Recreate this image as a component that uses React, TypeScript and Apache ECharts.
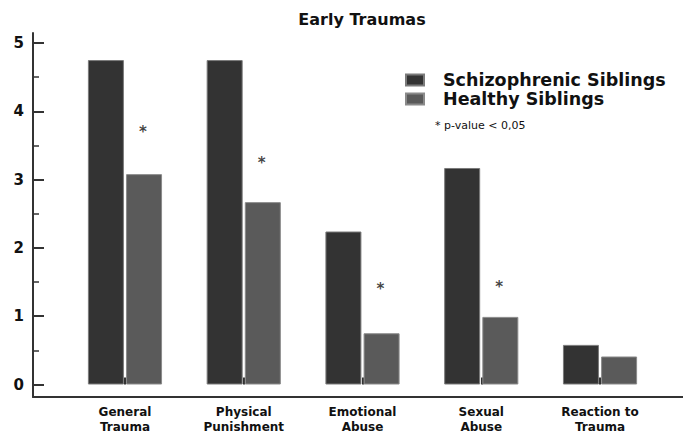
import React, { useEffect, useRef } from "react";
import * as echarts from "echarts";

const categories = ["General\nTrauma", "Physical\nPunishment", "Emotional\nAbuse", "Sexual\nAbuse", "Reaction to\nTrauma"];
const schizophrenicSiblings = [4.75, 4.75, 2.24, 3.17, 0.58];
const healthySiblings = [3.08, 2.67, 0.75, 0.99, 0.41];
const significance = [3.76, 3.3, 1.46, 1.48, null];
const yTicks = [0, 1, 2, 3, 4, 5];

const FONT = "DejaVu Sans";

export default function App() {
  const ref = useRef<HTMLDivElement>(null);
  useEffect(() => {
    if (!ref.current) return;
    const chart = echarts.init(ref.current, null, { renderer: "svg" });
    chart.setOption({
      animation: false,
      backgroundColor: "#ffffff",
      textStyle: { fontFamily: FONT },
      grid: [
        { left: 33, right: 0, top: 33, bottom: 37 },
        { left: 65.6, right: 23.6, top: 43, bottom: 47.5 },
      ],
      xAxis: [
        {
          gridIndex: 0,
          type: "value",
          min: 0,
          max: 1,
          axisLine: { show: true, lineStyle: { color: "#333", width: 2 } },
          axisTick: { show: false },
          axisLabel: { show: false },
          splitLine: { show: false },
        },
        {
          gridIndex: 1,
          type: "category",
          data: categories,
          offset: 10.5,
          axisLine: { show: false },
          axisTick: { show: true, inside: true, length: 7, alignWithLabel: true, lineStyle: { color: "#333", width: 2 } },
          axisLabel: {
            margin: 9,
            color: "#111",
            fontFamily: FONT,
            fontWeight: "bold",
            fontSize: 12,
            lineHeight: 15,
            interval: 0,
          },
        },
      ],
      yAxis: [
        {
          gridIndex: 0,
          type: "value",
          min: 0,
          max: 1,
          axisLine: { show: true, lineStyle: { color: "#333", width: 2 } },
          axisTick: { show: false },
          axisLabel: { show: false },
          splitLine: { show: false },
        },
        {
          gridIndex: 1,
          type: "value",
          min: yTicks[0],
          max: yTicks[yTicks.length - 1],
          interval: 1,
          offset: 32.6,
          axisLine: { show: false },
          axisTick: { show: true, inside: true, length: 11, lineStyle: { color: "#333", width: 2 } },
          minorTick: { show: true, splitNumber: 2, length: 6, lineStyle: { color: "#333", width: 1.5 } },
          axisLabel: { margin: 9, color: "#111", fontFamily: FONT, fontWeight: "bold", fontSize: 15 },
          splitLine: { show: false },
        },
      ],
      legend: {
        orient: "vertical",
        left: 405,
        top: 71,
        padding: 0,
        icon: "rect",
        itemWidth: 18,
        itemHeight: 11,
        itemGap: 1,
        textStyle: { fontFamily: FONT, fontWeight: "bold", fontSize: 17.5, lineHeight: 17, color: "#111", padding: [0, 0, 0, 14] },
        data: ["Schizophrenic Siblings", "Healthy Siblings"],
      },
      graphic: [
        {
          type: "text",
          x: 362,
          y: 19,
          style: {
            text: "Early Traumas",
            fontFamily: FONT,
            fontWeight: "bold",
            fontSize: 16,
            fill: "#111",
            align: "center",
            verticalAlign: "middle",
          },
        },
        {
          type: "text",
          x: 435,
          y: 125,
          style: {
            text: "* p-value < 0,05",
            fontFamily: FONT,
            fontSize: 11,
            fill: "#111",
            align: "left",
            verticalAlign: "middle",
          },
        },
      ],
      series: [
        {
          name: "Schizophrenic Siblings",
          type: "bar",
          xAxisIndex: 1,
          yAxisIndex: 1,
          data: schizophrenicSiblings,
          barWidth: 36,
          barGap: "6%",
          itemStyle: { color: "#333333", borderColor: "#7a7a7a", borderWidth: 1 },
        },
        {
          name: "Healthy Siblings",
          type: "bar",
          xAxisIndex: 1,
          yAxisIndex: 1,
          data: healthySiblings,
          barWidth: 36,
          barGap: "6%",
          itemStyle: { color: "#5a5a5a", borderColor: "#8a8a8a", borderWidth: 1 },
        },
        {
          name: "sig",
          type: "scatter",
          xAxisIndex: 1,
          yAxisIndex: 1,
          data: significance,
          symbolSize: 0,
          silent: true,
          itemStyle: { color: "#111" },
          label: {
            show: true,
            formatter: "*",
            position: "inside",
            offset: [18, 4],
            fontFamily: FONT,
            fontWeight: "bold",
            fontSize: 15,
            color: "#111",
            textBorderWidth: 0,
          },
        },
      ],
    });
    return () => chart.dispose();
  }, []);
  return <div ref={ref} style={{ position: "fixed", left: 0, top: 0, width: 683, height: 434 }} />;
}
